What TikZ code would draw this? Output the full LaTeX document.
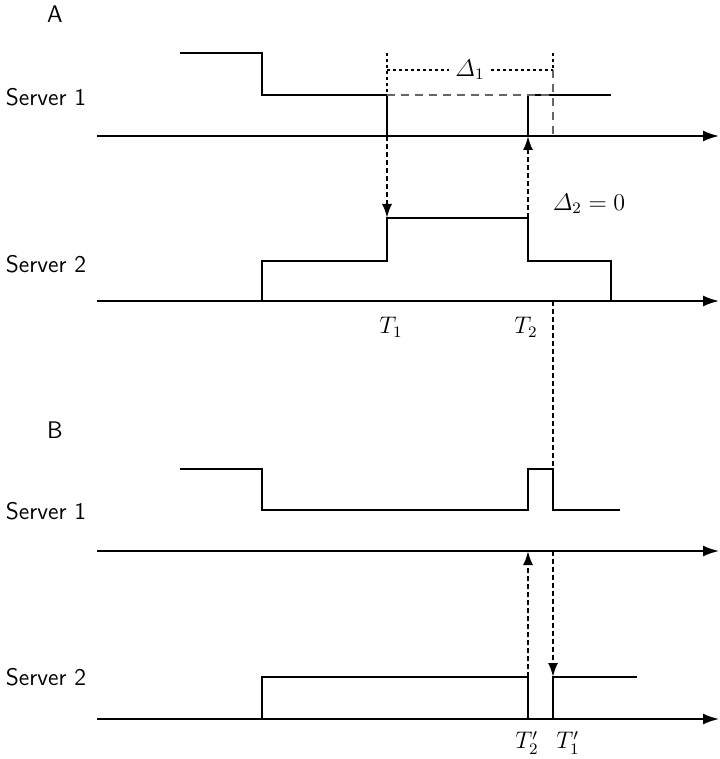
\documentclass[tikz,border=0pt]{standalone}
\usepackage{amsmath}
\usetikzlibrary{arrows.meta}
\begin{document}
\begin{tikzpicture}[x=0.5pt,y=-0.5pt,
  sig/.style={line width=0.9pt},
  axis/.style={line width=0.9pt,-{Latex[length=8pt,width=5.5pt]}},
  msg/.style={line width=1.1pt,dash pattern=on 2.5pt off 1.5pt,-{Latex[length=7pt,width=5pt]}},
  guide/.style={line width=0.6pt,dash pattern=on 1.5pt off 1.5pt},
  gdash/.style={line width=0.6pt,gray!80!black,dash pattern=on 4pt off 3pt},
  lab/.style={font=\large\sffamily},
  mlab/.style={font=\large}]
\useasboundingbox (0,0) rectangle (719,759);
% labels
\node[lab] (A) at (55,14) {A};
\node[lab] (B) at (55,430) {B};
\node[lab] (s1a) at (46,97) {Server 1};
\node[lab] (s2a) at (46,264) {Server 2};
\node[lab] (s1b) at (46,511) {Server 1};
\node[lab] (s2b) at (46,677) {Server 2};
% axes
\coordinate (a1s) at (97,136); \coordinate (a1e) at (719,136);
\coordinate (a2s) at (97,301); \coordinate (a2e) at (719,301);
\coordinate (b1s) at (97,551); \coordinate (b1e) at (719,551);
\coordinate (b2s) at (97,719); \coordinate (b2e) at (719,719);
\draw[axis] (a1s) -- (a1e);
\draw[axis] (a2s) -- (a2e);
\draw[axis] (b1s) -- (b1e);
\draw[axis] (b2s) -- (b2e);
% A signals
\draw[sig] (180,53) -- (262,53) -- (262,95) -- (387,95) -- (387,136);
\draw[sig] (528,136) -- (528,95) -- (611,95);
\draw[sig] (262,301) -- (262,261) -- (387,261) -- (387,218) -- (528,218) -- (528,261) -- (611,261) -- (611,301);
% A guides
\coordinate (g1t) at (387,53); \coordinate (g1b) at (387,95);
\coordinate (g2t) at (553,53); \coordinate (g2m) at (553,70); \coordinate (g2b) at (553,136);
\draw[guide] (g1t) -- (g1b);
\draw[guide] (g2t) -- (g2m);
\draw[gdash] (g1b) -- (553,95);
\draw[gdash] (g2m) -- (g2b);
\node[mlab,fill=white,inner sep=3pt] (d1) at (470,70) {$\varDelta_1$};
\draw[guide] (387,70) -- (d1.west);
\draw[guide] (d1.east) -- (g2m);
\node[mlab] (d2) at (589,204) {$\varDelta_2=0$};
% A messages
\coordinate (m1s) at (387,136); \coordinate (m1e) at (387,218);
\coordinate (m2s) at (528,218); \coordinate (m2e) at (528,136);
\draw[msg] (m1s) -- (m1e);
\draw[msg] (m2s) -- (m2e);
\node[mlab] (T1) at (391,327) {$T_1$};
\node[mlab] (T2) at (526,327) {$T_2$};
% long guide
\coordinate (lg1) at (553,301); \coordinate (lg2) at (553,469);
\draw[line width=1pt,dash pattern=on 2.5pt off 1.5pt] (lg1) -- (lg2);
% B signals
\draw[sig] (180,469) -- (262,469) -- (262,510) -- (528,510) -- (528,469) -- (553,469) -- (553,510) -- (620,510);
\draw[sig] (262,719) -- (262,677) -- (528,677) -- (528,719);
\draw[sig] (553,719) -- (553,677) -- (637,677);
% B messages
\coordinate (n1s) at (528,677); \coordinate (n1e) at (528,551);
\coordinate (n2s) at (553,551); \coordinate (n2e) at (553,677);
\draw[msg] (n1s) -- (n1e);
\draw[msg] (n2s) -- (n2e);
\node[mlab] (T2p) at (527,743) {$T_2'$};
\node[mlab] (T1p) at (568,743) {$T_1'$};
\end{tikzpicture}
\end{document}
